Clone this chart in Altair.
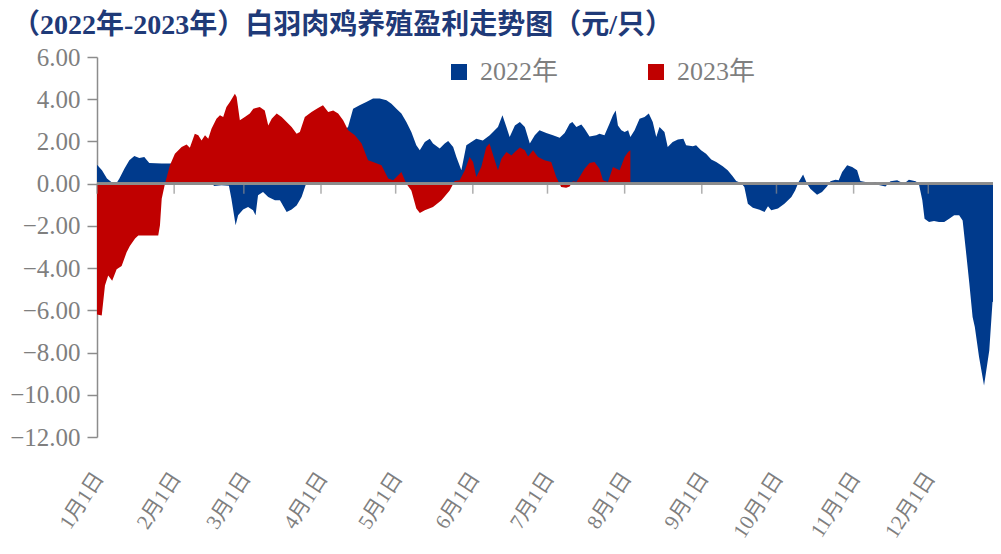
import altair as alt
import pandas as pd

TITLE = "（2022年-2023年）白羽肉鸡养殖盈利走势图（元/只）"
series_names = ["2022年", "2023年"]
series_colors = ["#003A8C", "#C00000"]
month_days = [0, 31, 59, 90, 120, 151, 181, 212, 243, 273, 304, 334]
month_labels = ["1月1日", "2月1日", "3月1日", "4月1日", "5月1日", "6月1日",
                "7月1日", "8月1日", "9月1日", "10月1日", "11月1日", "12月1日"]
y_ticks = [-12, -10, -8, -6, -4, -2, 0, 2, 4, 6]

days_2022 = [0, 2, 4, 6, 8, 9, 11, 13, 15, 17, 19, 21, 26, 35, 42, 45, 47, 50, 53, 54,
             55.7, 56.7, 58.7, 60.7, 62.7, 63.7, 64.7, 66.7, 68.8, 71.5, 73.5, 76.2, 78.2, 80.2, 82.2, 83.8,
             86, 90, 94, 98, 100.9, 102.9, 105.5, 108.2, 110.9, 113.6, 116.3, 118.3, 120.3, 122.3,
             124.3, 126.3, 128.3, 129.7, 131.7, 133.7, 135, 137.7, 139.7, 141.1, 143.1, 144.4, 146.4,
             148.4, 150.4, 152.4, 155, 157.8, 161.1, 162.9, 164.5, 165.8, 167.9, 169.9, 171.9, 173.9,
             175.9, 177.8, 180.5, 183.2, 185.9, 187.9, 189.9, 191, 192.6, 194.6, 195.9, 197.9, 200.6,
             201.9, 203.9, 205.9, 207.3, 208.4, 209.3, 210.7, 212, 213.4, 214.3, 216, 218, 220, 221.7,
             223.3, 224.7, 226, 228, 229.3, 231.3, 233.4, 235.6, 236.7, 239.4, 240.7, 242.7, 244.7,
             246.8, 248.8, 251.4, 253.4, 255.4, 256.8, 258.8, 260.1, 261.5, 263.5, 266.2, 268.2, 269.6,
             270.9, 273.6, 276.2, 279, 280.5, 281.9, 283.7, 285.3, 286.6, 289.3, 291.3, 293.3, 294.7,
             296.7, 298, 299.4, 301.4, 303.4, 305.4, 306.7, 308.7, 310.8, 312.8, 314.1, 316.8, 318.8,
             321.5, 324.2, 326.2, 328.9, 330.2, 331.6, 332.5, 334.3, 336.3, 338.3, 340.4, 342.4, 344.4,
             346.4, 347.8, 349.1, 350.5, 351.8, 352.7, 354.4, 356.4, 358.5, 359.8, 361.1, 362.5, 363.6]
vals_2022 = [0.9, 0.63, 0.24, 0.05, 0.05, 0.24, 0.71, 1.11, 1.31, 1.22, 1.26, 0.98, 0.95, 0.95, 0.9, 0.3, -0.11, -0.08, -0.1, -0.71,
             -1.97, -1.5, -1.22, -1.1, -1.26, -1.5, -0.55, -0.39, -0.63, -0.79, -0.79, -1.34, -1.22, -1.03, -0.63, -0.08,
             0.5, 1.3, 2.0, 2.3, 2.7, 3.55, 3.71, 3.87, 4.03, 4.03, 3.95, 3.79, 3.55, 3.32,
             2.92, 2.45, 1.82, 1.58, 1.97, 2.13, 1.9, 1.66, 1.9, 2.02, 1.74, 1.26, 0.63,
             1.82, 1.97, 2.13, 2.05, 2.29, 2.68, 3.24, 2.68, 2.21, 2.76, 2.92, 2.68, 1.9,
             2.29, 2.53, 2.4, 2.29, 2.17, 2.4, 2.84, 2.92, 2.68, 2.8, 2.6, 2.24, 2.29,
             2.37, 2.29, 2.84, 3.24, 3.47, 2.76, 2.53, 2.45, 2.53, 2.21, 2.53, 3.08, 3.16, 3.32,
             2.92, 2.21, 2.68, 2.45, 1.74, 1.97, 2.09, 2.13, 1.82, 1.77, 1.82, 1.58, 1.42,
             1.14, 1.03, 0.82, 0.63, 0.35, 0.13, 0.03, -0.16, -0.95, -1.14, -1.23, -1.34, -1.07,
             -1.26, -1.18, -0.95, -0.63, -0.32, 0.08, 0.44, 0.0, -0.24, -0.52, -0.39, -0.13, 0.11,
             0.19, 0.16, 0.55, 0.87, 0.79, 0.63, 0.13, 0.08, 0.0, 0.08, -0.06, -0.13, 0.11,
             0.16, 0.0, 0.19, 0.11, 0.0, -0.79, -1.66, -1.82, -1.77, -1.82, -1.82, -1.66, -1.5,
             -1.5, -1.74, -3.16, -4.74, -6.32, -6.79, -8.21, -9.56, -7.9, -5.6, -5.53, -5.77, -5.85]

days_2023 = [0, 1.9, 3.2, 4.5, 6.1, 7.9, 9.9, 11.9, 13.2, 15.3, 16.6, 24.6, 25.3, 26, 27.3, 29.3, 31.3, 34, 36, 37.3,
             39.3, 40.7, 42, 43.4, 44.7, 46, 48, 49.4, 50.7, 52, 53.4, 55.4, 56.1, 57.4, 59.4, 61.4, 62.8,
             65.4, 67.4, 68.8, 70.2, 72.2, 74.2, 76.2, 78.2, 80.2, 81.5, 83.5, 86.2, 88.8, 90.8, 92.9,
             94.9, 96.9, 98.9, 100.9, 103.6, 106.3, 108.9, 110.9, 114.3, 117, 119, 121, 122.3, 124.3,
             126.3, 128.3, 129.7, 131.7, 135, 138.4, 141.7, 143.7, 145.7, 147.8, 149.7, 151.1, 152.4,
             154.4, 156.4, 157.7, 159.8, 161.1, 162.5, 164.5, 166.5, 167.9, 169.9, 171.9, 173.2, 175.2,
             177.2, 179.8, 182.5, 184.5, 186.5, 188.5, 189.9, 191.2, 192.6, 193.9, 195.9, 197.9, 199.9,
             201.9, 203.3, 205.3, 207.3, 208.7, 210, 212, 213.4, 214.3]
vals_2023 = [-6.2, -6.24, -4.82, -4.35, -4.6, -4.05, -3.9, -3.25, -2.95, -2.6, -2.45, -2.45, -1.97, -0.71, 0.0, 0.87, 1.42, 1.74, 1.85, 1.7,
             2.37, 2.29, 2.05, 2.29, 2.13, 2.6, 3.08, 3.24, 3.16, 3.63, 3.87, 4.26, 4.1, 3.0, 3.16, 3.32, 3.55,
             3.63, 3.47, 2.76, 3.08, 3.32, 3.16, 2.92, 2.68, 2.37, 2.45, 3.16, 3.4, 3.58, 3.71, 3.4,
             3.47, 3.32, 3.0, 2.53, 2.29, 1.9, 1.11, 1.03, 0.87, 0.24, 0.16, 0.4, 0.55, 0.0,
             -0.32, -1.18, -1.39, -1.26, -1.1, -0.79, -0.32, 0.13, 0.16, 0.63, 1.26, 1.03, 0.32,
             0.79, 1.74, 1.9, 1.11, 0.63, 1.18, 1.5, 1.34, 1.5, 1.71, 1.58, 1.29, 1.58,
             1.26, 1.11, 1.03, 0.32, -0.16, -0.19, -0.13, 0.11, 0.08, 0.32, 0.71, 0.98, 1.03,
             0.71, 0.16, 0.08, 0.79, 0.71, 0.63, 1.26, 1.5, 1.58]

df = pd.concat([
    pd.DataFrame({"day": days_2022, "value": vals_2022, "series": series_names[0]}),
    pd.DataFrame({"day": days_2023, "value": vals_2023, "series": series_names[1]}),
], ignore_index=True)
ticks_df = pd.DataFrame({"day": month_days})

SERIF = "Liberation Serif, Noto Sans CJK SC"
GRAY = "#7F7F7F"
AXIS_GRAY = "#8C8C8C"

x_scale = alt.Scale(domain=[0, 360], nice=False, zero=False)
y_scale = alt.Scale(domain=[-12, 6], nice=False, zero=False)
color_scale = alt.Scale(domain=series_names, range=series_colors)

label_expr = ("[" + ",".join("'%s'" % l for l in month_labels) + "][indexof(["
              + ",".join(str(d) for d in month_days) + "], datum.value)]")

x_axis = alt.Axis(values=month_days, labelExpr=label_expr, labelAngle=303,
                  labelAlign="right", labelBaseline="middle", labelPadding=37,
                  labelOffset=2, labelFlush=False, labelOverlap=False,
                  labelFont=SERIF, labelFontSize=21, labelColor=GRAY,
                  ticks=False, domain=False, grid=False, title=None)
y_axis = alt.Axis(values=y_ticks, format=".2f", labelFont=SERIF, labelFontSize=25,
                  labelColor=GRAY, labelPadding=7, domainColor=AXIS_GRAY, domainWidth=1.5,
                  tickColor=AXIS_GRAY, tickSize=10, tickWidth=1.5, grid=False, title=None)
legend = alt.Legend(orient="none", legendX=349, legendY=2, direction="horizontal", title=None,
                    symbolType="square", symbolSize=256, symbolStrokeWidth=0,
                    labelFont=SERIF, labelFontSize=26, labelColor=GRAY,
                    labelOffset=8, columnPadding=84)

base = alt.Chart(df)

def area_layer(name):
    return base.transform_filter(alt.datum.series == name).mark_area(
        clip=True, interpolate="linear", opacity=1
    ).encode(
        x=alt.X("day:Q", scale=x_scale, axis=x_axis),
        y=alt.Y("value:Q", scale=y_scale, axis=y_axis),
        y2=alt.datum(0),
        color=alt.Color("series:N", scale=color_scale, legend=legend),
    )

zero_rule = alt.Chart(ticks_df).mark_rule(color=AXIS_GRAY, strokeWidth=2).encode(
    y=alt.Y(datum=0)
)
month_ticks = alt.Chart(ticks_df).mark_tick(
    color=AXIS_GRAY, orient="vertical", size=10, thickness=1.5, yOffset=5
).encode(
    x=alt.X("day:Q"),
    y=alt.Y(datum=0),
)

chart = alt.layer(
    area_layer(series_names[0]),
    area_layer(series_names[1]),
    zero_rule,
    month_ticks,
).properties(
    width=896,
    height=380,
    padding={"left": 89, "top": 49, "right": 0, "bottom": 109},
    autosize=alt.AutoSizeParams(type="none"),
    title=alt.Title(TITLE, anchor="start", frame="group", font=SERIF, fontSize=28,
                    fontWeight="bold", color="#1F3A78", dx=-85, offset=5),
).configure_view(stroke=None)

chart.save("out.html", embed_options={"renderer": "svg", "actions": False})
